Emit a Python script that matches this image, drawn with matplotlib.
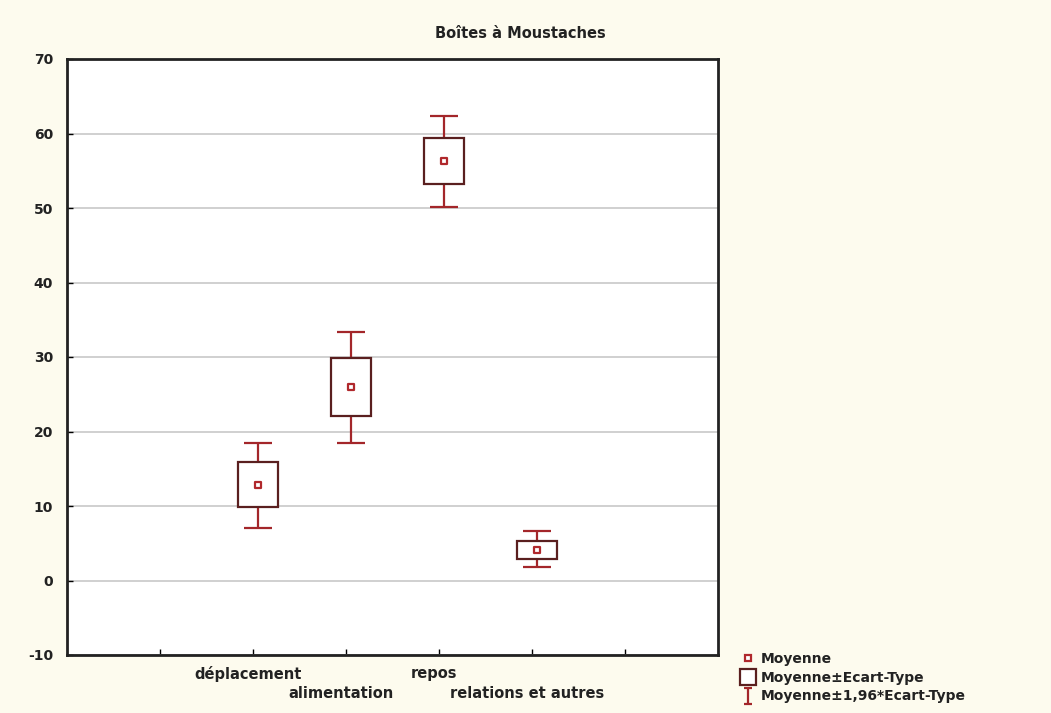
import matplotlib
matplotlib.use("Agg")
import matplotlib.pyplot as plt
import numpy as np
from matplotlib.lines import Line2D
from matplotlib.path import Path

# Values
categories = ["déplacement", "alimentation", "repos", "relations et autres"]
means = [12.8, 26.0, 56.3, 4.1]
sd_low = [9.9, 22.1, 53.2, 2.9]
sd_high = [15.9, 29.8, 59.4, 5.3]
ci_low = [7.0, 18.5, 50.2, 1.8]
ci_high = [18.4, 33.3, 62.4, 6.6]
positions = [2, 3, 4, 5]
yticks = [-10, 0, 10, 20, 30, 40, 50, 60, 70]

box_color = "#5a1f1f"
whisker_color = "#a3262a"
mean_color = "#b0282c"
bg = "#fdfbee"
txt = "#222222"

plt.rcParams["font.family"] = ["DejaVu Sans"]

fig = plt.figure(figsize=(10.51, 7.13), dpi=100, facecolor=bg)
ax = fig.add_axes([67 / 1051, 1 - 655 / 713, (718 - 67) / 1051, (655 - 59) / 713])
ax.set_facecolor("white")

x = np.array(positions, dtype=float) + 0.05
means = np.array(means)
yerr = [means - np.array(ci_low), np.array(ci_high) - means]

# whiskers (+/- 1.96 sd)
ax.errorbar(x, means, yerr=yerr, fmt="none", ecolor=whisker_color,
            elinewidth=1.6, capsize=10, capthick=1.6, zorder=2)

# boxes (+/- sd)
ax.bar(x, np.array(sd_high) - np.array(sd_low), bottom=sd_low, width=0.43,
       facecolor="white", edgecolor=box_color, linewidth=1.6, zorder=3)

# mean markers
ax.scatter(x, means, marker="s", s=22, facecolor="white",
           edgecolor=mean_color, linewidth=1.6, zorder=4)

ax.set_xlim(0, 7)
ax.set_ylim(-10, 70)
ax.set_yticks(yticks)
ax.set_yticklabels([str(v) for v in yticks], fontsize=10, fontweight="bold", color=txt)
ax.yaxis.grid(True, color="#c8c8c8", linewidth=1.2)
ax.set_axisbelow(True)
ax.tick_params(axis="y", direction="in", length=4, width=1, pad=10)

ax.set_xticks([1, 2, 3, 4, 5, 6])
ax.set_xticklabels([])
ax.tick_params(axis="x", direction="in", length=4, width=1)
for i, (p, lab) in enumerate(zip(x, categories)):
    yoff = -0.018 if i % 2 == 0 else -0.052
    ax.text(p - 0.1, yoff, lab, transform=ax.get_xaxis_transform(),
            ha="center", va="top", fontsize=10.5, fontweight="bold", color=txt)

for s in ax.spines.values():
    s.set_linewidth(2)
    s.set_color(txt)

fig.text(520 / 1051, 1 - 33 / 713, "Boîtes à Moustaches", ha="center", va="center",
         fontsize=10.5, fontweight="bold", color=txt)

# legend
ibeam = Path([(-0.5, -1), (0.5, -1), (0, -1), (0, 1), (-0.5, 1), (0.5, 1)],
             [Path.MOVETO, Path.LINETO, Path.MOVETO, Path.LINETO, Path.MOVETO, Path.LINETO])
handles = [
    Line2D([], [], linestyle="none", marker="s", markersize=5, markerfacecolor="white",
           markeredgecolor=mean_color, markeredgewidth=1.6),
    Line2D([], [], linestyle="none", marker="s", markersize=11, markerfacecolor="white",
           markeredgecolor=box_color, markeredgewidth=1.6),
    Line2D([], [], linestyle="none", marker=ibeam, markersize=12,
           markeredgecolor=whisker_color, markeredgewidth=1.6),
]
labels = ["Moyenne", "Moyenne±Ecart-Type", "Moyenne±1,96*Ecart-Type"]
leg = fig.legend(handles, labels, loc="lower left", bbox_to_anchor=(737 / 1051, 4 / 713),
                 frameon=False, handlelength=0.8, handletextpad=0.5, labelspacing=0.35,
                 prop={"size": 10, "weight": "bold"}, borderaxespad=0)
for t in leg.get_texts():
    t.set_color(txt)

fig.savefig("out.png", dpi=100, facecolor=bg)
